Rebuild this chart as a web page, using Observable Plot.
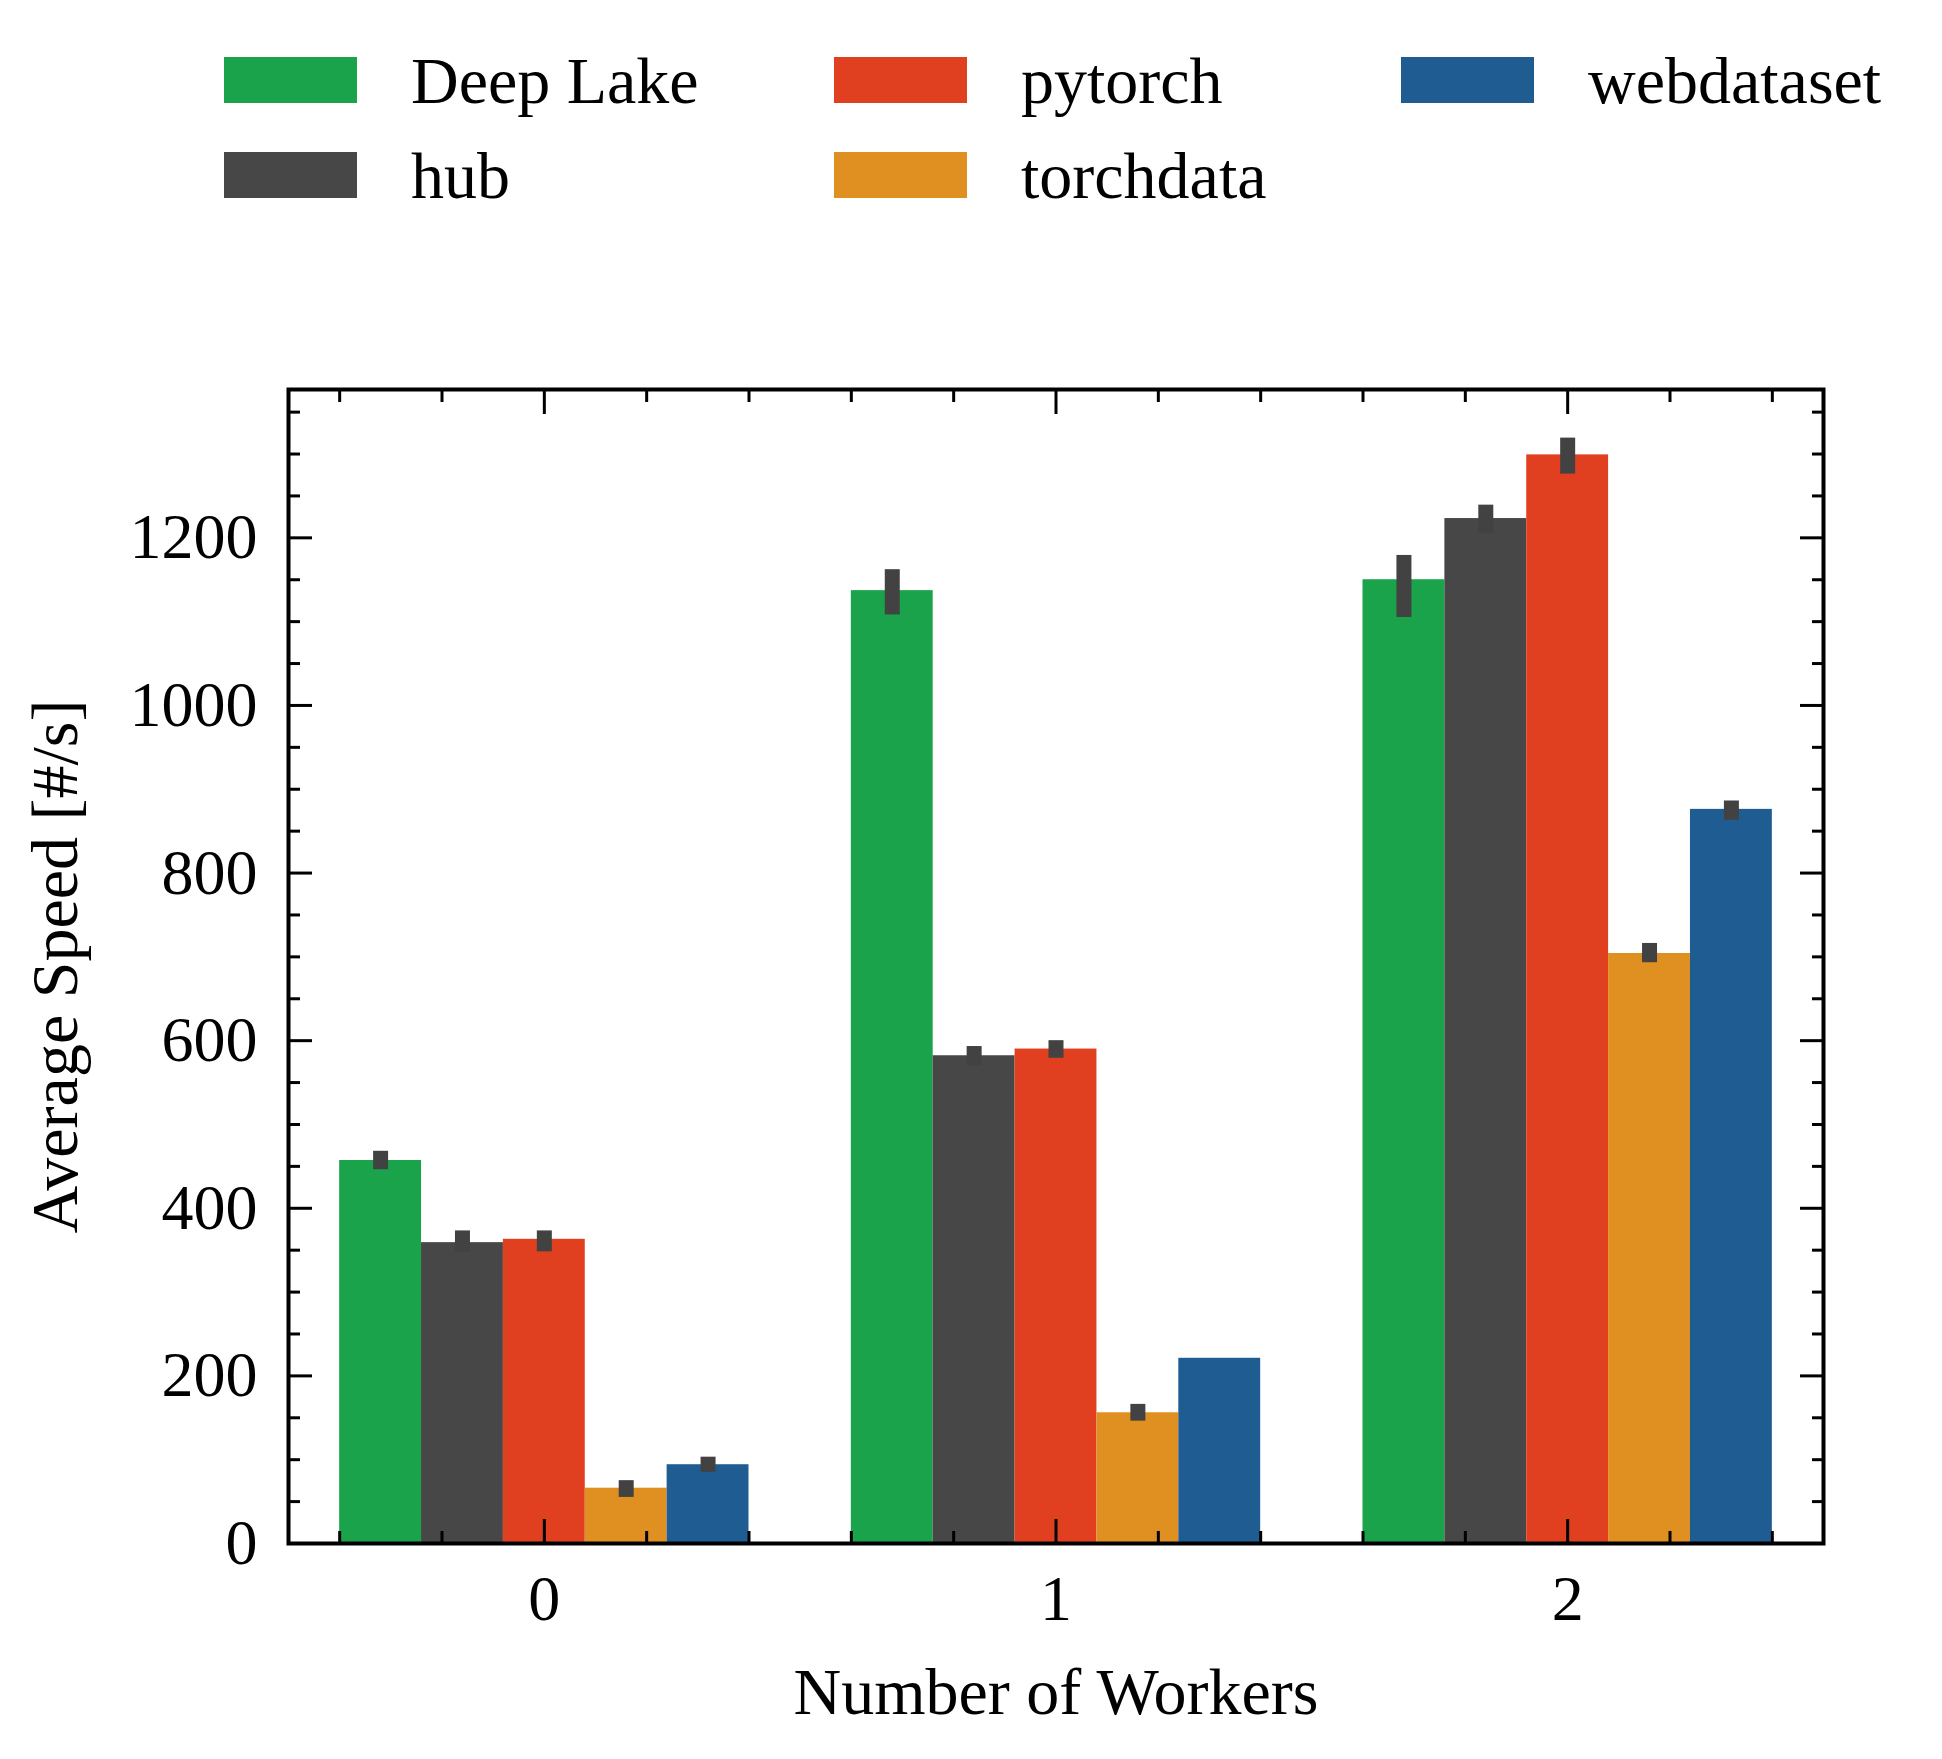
<!DOCTYPE html>
<html>
<head>
<meta charset="utf-8">
<script src="https://cdn.jsdelivr.net/npm/d3@7"></script>
<script src="https://cdn.jsdelivr.net/npm/@observablehq/plot@0.6"></script>
<style>
  html, body { margin: 0; padding: 0; background: #fff; }
  #wrap { width: 1942px; }
  #legend { position: relative; width: 1942px; height: 330px; font-family: "Liberation Serif", serif; font-size: 66px; color: #000; }
  .item { position: absolute; white-space: nowrap; line-height: 1; }
  .sw { display: inline-block; width: 133px; height: 46px; margin-right: 54px; vertical-align: baseline; }
  #chart svg { display: block; }
</style>
</head>
<body>
<div id="wrap">
  <div id="legend"></div>
  <div id="chart"></div>
</div>
<script>
// ---- data ----
const workers = [0, 1, 2];
const libraries = ["Deep Lake", "hub", "pytorch", "torchdata", "webdataset"];
const colors = ["#1aa34a", "#474747", "#e04020", "#e08f21", "#1f5c91"];

// mean speed per library for 0, 1, 2 workers
const deepLake   = [457, 1137, 1150];
const hub        = [359, 582, 1223];
const pytorch    = [363, 590, 1299];
const torchdata  = [66, 156, 704];
const webdataset = [94, 221, 876];

// error bar ends (low / high)
const deepLakeLo   = [446, 1108, 1105], deepLakeHi   = [468, 1162, 1179];
const hubLo        = [348, 570, 1205],  hubHi        = [373, 593, 1239];
const pytorchLo    = [348, 579, 1276],  pytorchHi    = [373, 600, 1319];
const torchdataLo  = [55, 146, 693],    torchdataHi  = [75, 166, 716];
const webdatasetLo = [85, 221, 863],    webdatasetHi = [103, 221, 886];

// ticks
const xMajor = [0, 1, 2];
const xMinor = [-0.4, -0.2, 0.2, 0.4, 0.6, 0.8, 1.2, 1.4, 1.6, 1.8, 2.2, 2.4];
const yMajor = [0, 200, 400, 600, 800, 1000, 1200];
const yMinor = [50, 100, 150, 250, 300, 350, 450, 500, 550, 650, 700, 750, 850, 900, 950, 1050, 1100, 1150, 1250, 1300, 1350];
const yTop = 1377;

const xLabel = "Number of Workers";
const yLabel = "Average Speed [#/s]";

// ---- build table ----
const values = [deepLake, hub, pytorch, torchdata, webdataset];
const lows = [deepLakeLo, hubLo, pytorchLo, torchdataLo, webdatasetLo];
const highs = [deepLakeHi, hubHi, pytorchHi, torchdataHi, webdatasetHi];
const rows = [];
libraries.forEach((lib, j) => {
  workers.forEach((w, i) => {
    rows.push({workers: w, library: lib, li: j, value: values[j][i], lo: lows[j][i], hi: highs[j][i]});
  });
});
const groupWidth = 0.8;
const barW = groupWidth / libraries.length;
const barLeft = d => d.workers - groupWidth / 2 + d.li * barW;

// ---- legend (column-major, 2 rows) ----
const colLeft = [224, 834, 1401];
const rowTop = [48, 143];
const legend = document.getElementById("legend");
libraries.forEach((lib, i) => {
  const item = document.createElement("div");
  item.className = "item";
  item.style.left = colLeft[Math.floor(i / 2)] + "px";
  item.style.top = rowTop[i % 2] + "px";
  const sw = document.createElement("span");
  sw.className = "sw";
  sw.style.background = colors[i];
  const lb = document.createElement("span");
  lb.textContent = lib;
  item.appendChild(sw);
  item.appendChild(lb);
  legend.appendChild(item);
});

// ---- chart ----
const tickCommon = {strokeWidth: 3, fill: "none", label: null, stroke: "#000"};
const chart = Plot.plot({
  width: 1942,
  height: 1429,
  marginTop: 59,
  marginBottom: 216,
  marginLeft: 288,
  marginRight: 119,
  style: {fontFamily: '"Liberation Serif", serif', background: "#fff", color: "#000", overflow: "visible"},
  x: {domain: [-0.5, 2.5]},
  y: {domain: [0, yTop]},
  color: {domain: libraries, range: colors},
  marks: [
    Plot.rectY(rows, {x1: barLeft, x2: d => barLeft(d) + barW, y1: 0, y2: "value", fill: "library"}),
    Plot.ruleX(rows, {x: d => barLeft(d) + barW / 2, y1: "lo", y2: "hi", stroke: "#424242", strokeWidth: 15}),
    Plot.frame({stroke: "#000", strokeWidth: 4}),
    // inward ticks on all four sides
    Plot.axisY({...tickCommon, anchor: "left", ticks: yMajor, tickSize: -24}),
    Plot.axisY({...tickCommon, anchor: "left", ticks: yMinor, tickSize: -12}),
    Plot.axisY({...tickCommon, anchor: "right", ticks: yMajor, tickSize: -24}),
    Plot.axisY({...tickCommon, anchor: "right", ticks: yMinor, tickSize: -12}),
    Plot.axisX({...tickCommon, anchor: "bottom", ticks: xMajor, tickSize: -24}),
    Plot.axisX({...tickCommon, anchor: "bottom", ticks: xMinor, tickSize: -12}),
    Plot.axisX({...tickCommon, anchor: "top", ticks: xMajor, tickSize: -24}),
    Plot.axisX({...tickCommon, anchor: "top", ticks: xMinor, tickSize: -12}),
    // tick labels
    Plot.axisY({anchor: "left", ticks: yMajor, tickSize: 0, tickPadding: 31, tickFormat: "d", fontSize: 64, label: null}),
    Plot.axisX({anchor: "bottom", ticks: xMajor, tickSize: 0, tickPadding: 31, tickFormat: "d", fontSize: 64, label: null}),
    // axis titles
    Plot.axisY({anchor: "left", ticks: [], tickSize: 0, fontSize: 66, label: yLabel, labelAnchor: "center", labelOffset: 258, labelArrow: "none"}),
    Plot.axisX({anchor: "bottom", ticks: [], tickSize: 0, fontSize: 66, label: xLabel, labelAnchor: "center", labelOffset: 170, labelArrow: "none"})
  ]
});
document.getElementById("chart").appendChild(chart);
</script>
</body>
</html>
